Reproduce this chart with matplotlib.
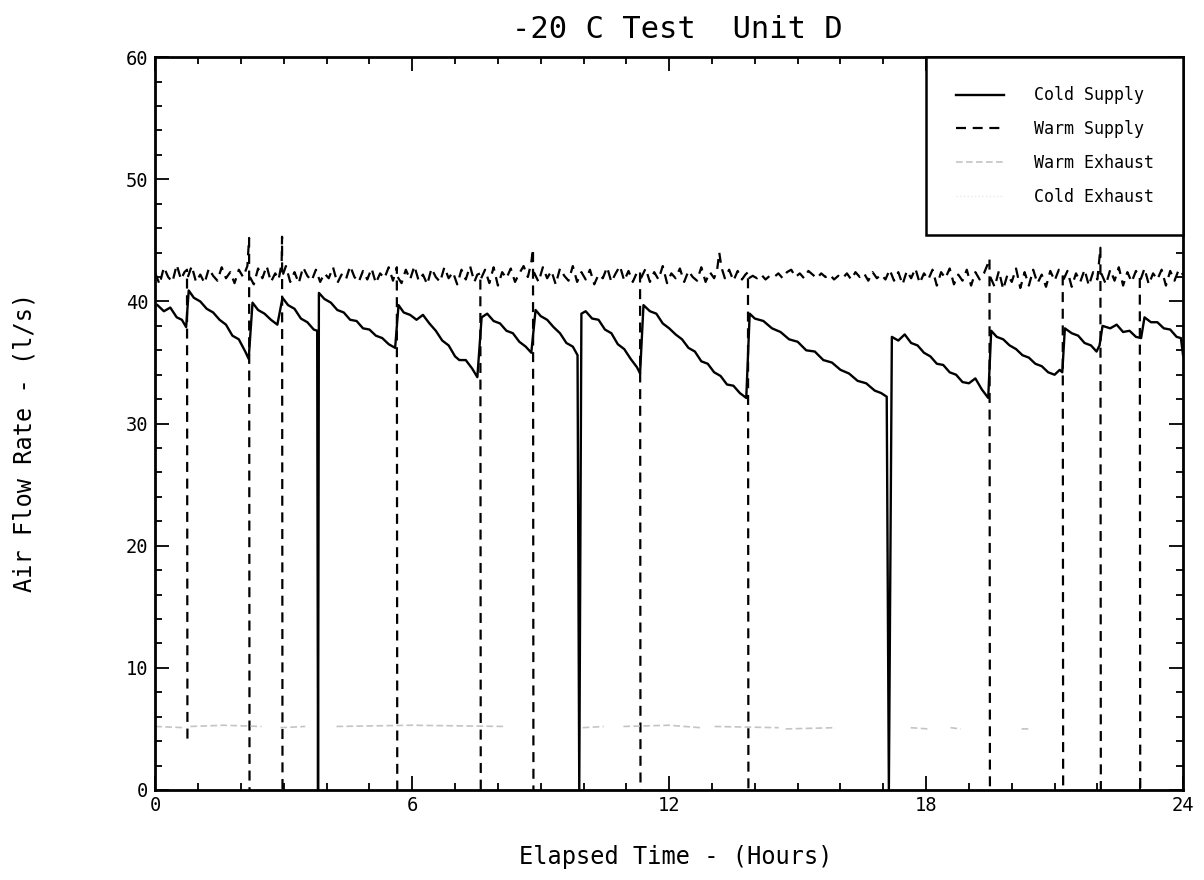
import matplotlib
matplotlib.use("Agg")
import matplotlib.pyplot as plt
from matplotlib.ticker import MultipleLocator
import numpy as np

FONT = ["DejaVu Sans Mono", "DejaVu Sans"]
plt.rcParams["font.family"] = FONT

title = "-20 C Test  Unit D"
x_label = "Elapsed Time - (Hours)"
y_label = "Air Flow Rate - (l/s)"
series_names = ["Cold Supply", "Warm Supply", "Warm Exhaust", "Cold Exhaust"]
x_ticks = [0, 6, 12, 18, 24]
y_ticks = [0, 10, 20, 30, 40, 50, 60]
nan = np.nan

# Cold Supply (solid sawtooth, drops to zero at three defrosts)
cold_supply_t = [0.05, 0.20, 0.35, 0.50, 0.62, 0.72, 0.78, 0.90, 1.05, 1.20, 1.35, 1.50, 1.65, 1.80, 1.95,
                 2.10, 2.18, 2.27, 2.40, 2.55, 2.70, 2.85, 2.97, 3.10, 3.25, 3.40, 3.55, 3.70, 3.78, 3.80,
                 3.82, 3.95, 4.10, 4.25, 4.40, 4.55, 4.70, 4.85, 5.00, 5.15, 5.30, 5.45, 5.60, 5.68, 5.80,
                 5.95, 6.10, 6.25, 6.40, 6.55, 6.70, 6.85, 7.00, 7.10, 7.25, 7.40, 7.52, 7.62, 7.75, 7.90,
                 8.05, 8.20, 8.35, 8.50, 8.65, 8.78, 8.88, 9.00, 9.15, 9.30, 9.45, 9.60, 9.75, 9.86, 9.90,
                 9.95, 10.05, 10.20, 10.35, 10.50, 10.65, 10.80, 10.95, 11.10, 11.25, 11.32, 11.40, 11.55,
                 11.70, 11.85, 12.00, 12.15, 12.30, 12.45, 12.60, 12.75, 12.90, 13.05, 13.20, 13.35, 13.50,
                 13.65, 13.80, 13.88, 14.00, 14.20, 14.40, 14.60, 14.80, 15.00, 15.20, 15.40, 15.60, 15.80,
                 16.00, 16.20, 16.40, 16.60, 16.80, 16.95, 17.08, 17.13, 17.20, 17.35, 17.50, 17.65, 17.80,
                 17.95, 18.10, 18.25, 18.40, 18.55, 18.70, 18.85, 19.00, 19.15, 19.30, 19.45, 19.52, 19.65,
                 19.80, 19.95, 20.10, 20.25, 20.40, 20.55, 20.70, 20.85, 21.00, 21.12, 21.18, 21.24, 21.40,
                 21.55, 21.70, 21.85, 21.98, 22.05, 22.12, 22.30, 22.45, 22.60, 22.75, 22.90, 23.02, 23.10,
                 23.25, 23.40, 23.55, 23.70, 23.85, 23.95, 24.00]
cold_supply_v = [39.7, 39.2, 39.5, 38.7, 38.5, 37.9, 40.9, 40.3, 40.0, 39.4, 39.1, 38.5, 38.1, 37.2, 36.9,
                 35.9, 35.3, 39.9, 39.3, 39.0, 38.5, 38.1, 40.3, 39.7, 39.4, 38.6, 38.3, 37.7, 37.6, 0.0,
                 40.7, 40.2, 39.9, 39.3, 39.1, 38.5, 38.4, 37.8, 37.7, 37.2, 37.0, 36.5, 36.2, 39.7, 39.1,
                 38.9, 38.5, 38.9, 38.2, 37.6, 36.8, 36.4, 35.5, 35.2, 35.2, 34.5, 33.8, 38.7, 39.0, 38.4,
                 38.2, 37.6, 37.4, 36.7, 36.3, 35.8, 39.3, 38.8, 38.5, 37.9, 37.4, 36.6, 36.3, 35.6, 0.0,
                 39.0, 39.2, 38.6, 38.5, 37.7, 37.4, 36.5, 36.1, 35.3, 34.6, 34.1, 39.7, 39.2,
                 39.0, 38.2, 37.8, 37.3, 36.9, 36.2, 35.9, 35.1, 34.9, 34.2, 33.9, 33.2, 33.1,
                 32.5, 32.1, 39.0, 38.6, 38.4, 37.8, 37.5, 36.9, 36.7, 36.0, 35.9, 35.2, 35.0,
                 34.4, 34.1, 33.5, 33.3, 32.7, 32.5, 32.2, 0.0, 37.1, 36.8, 37.3, 36.6, 36.4,
                 35.8, 35.5, 34.9, 34.8, 34.2, 34.0, 33.4, 33.3, 33.7, 32.8, 32.1, 37.6, 37.1,
                 36.9, 36.4, 36.1, 35.6, 35.4, 34.9, 34.7, 34.2, 34.0, 34.4, 34.2, 37.8, 37.4,
                 37.2, 36.6, 36.4, 35.9, 36.4, 38.0, 37.8, 38.1, 37.5, 37.6, 37.1, 37.0, 38.7,
                 38.3, 38.3, 37.8, 37.7, 37.1, 37.0, 35.6]

# Warm Supply (noisy ~42, dashed drops to zero at defrosts; nan = pen lift after each drop)
warm_supply_t = [0.00, 0.10, 0.20, 0.30, 0.40, 0.50, 0.60, 0.68, 0.74, 0.75, 0.755,
                 0.76, 0.85, 0.95, 1.05, 1.15, 1.25, 1.35, 1.45, 1.55, 1.65, 1.75, 1.85, 1.95, 2.05, 2.15,
                 2.19, 2.20, 2.205,
                 2.21, 2.30, 2.40, 2.50, 2.60, 2.70, 2.80, 2.88, 2.95, 2.96, 2.97, 2.975,
                 2.98, 3.05, 3.15, 3.25, 3.35, 3.45, 3.55, 3.65, 3.75, 3.85, 3.95, 4.05, 4.15, 4.25, 4.35,
                 4.45, 4.55, 4.65, 4.75, 4.85, 4.95, 5.05, 5.15, 5.25, 5.35, 5.45, 5.55, 5.64, 5.65, 5.655,
                 5.66, 5.75, 5.85, 5.95, 6.05, 6.15, 6.25, 6.35, 6.45, 6.55, 6.65, 6.75, 6.85, 6.95, 7.05,
                 7.15, 7.25, 7.35, 7.45, 7.52, 7.59, 7.60, 7.605,
                 7.61, 7.70, 7.80, 7.90, 8.00, 8.10, 8.20, 8.30, 8.40, 8.50, 8.60, 8.70, 8.78, 8.82, 8.83,
                 8.835,
                 8.84, 8.95, 9.05, 9.15, 9.25, 9.35, 9.45, 9.55, 9.65, 9.75, 9.85, 9.95, 10.05, 10.15, 10.25,
                 10.35, 10.45, 10.55, 10.65, 10.75, 10.85, 10.95, 11.05, 11.15, 11.25, 11.32, 11.33, 11.335,
                 11.34, 11.45, 11.55, 11.65, 11.75, 11.85, 11.95, 12.05, 12.15, 12.25, 12.35, 12.45, 12.55,
                 12.65, 12.75, 12.85, 12.95, 13.05, 13.12, 13.17, 13.22, 13.30, 13.40, 13.50, 13.60, 13.70,
                 13.78, 13.84, 13.85, 13.855,
                 13.86, 13.95, 14.05, 14.15, 14.25, 14.35, 14.45, 14.55, 14.65, 14.75, 14.85, 14.95, 15.05,
                 15.15, 15.25, 15.35, 15.45, 15.55, 15.65, 15.75, 15.85, 15.95, 16.05, 16.15, 16.25, 16.35,
                 16.45, 16.55, 16.65, 16.75, 16.85, 16.95, 17.05, 17.15, 17.25, 17.35, 17.45, 17.55, 17.65,
                 17.75, 17.85, 17.95, 18.05, 18.15, 18.25, 18.35, 18.45, 18.55, 18.65, 18.75, 18.85, 18.95,
                 19.05, 19.15, 19.25, 19.35, 19.42, 19.48, 19.49, 19.495,
                 19.50, 19.60, 19.70, 19.80, 19.90, 20.00, 20.10, 20.20, 20.30, 20.40, 20.50, 20.60, 20.70,
                 20.80, 20.90, 21.00, 21.10, 21.19, 21.20, 21.205,
                 21.21, 21.30, 21.40, 21.50, 21.60, 21.70, 21.80, 21.90, 22.00, 22.07, 22.08, 22.085,
                 22.09, 22.20, 22.30, 22.40, 22.50, 22.60, 22.70, 22.80, 22.90, 22.99, 23.00, 23.005,
                 23.01, 23.10, 23.20, 23.30, 23.40, 23.50, 23.60, 23.70, 23.80, 23.90, 24.00]
warm_supply_v = [42.3, 41.4, 42.8, 42.0, 41.6, 43.0, 41.8, 42.4, 42.6, 3.9, nan,
                 42.0, 42.9, 41.6, 42.2, 41.5, 42.7, 42.1, 41.7, 42.8, 41.9, 42.4, 41.5, 42.6, 42.0, 42.9,
                 45.2, 0.0, nan,
                 42.0, 41.4, 42.7, 41.9, 42.9, 41.6, 42.3, 41.8, 43.1, 45.3, 0.0, nan,
                 42.2, 42.9, 41.6, 42.4, 41.5, 42.8, 42.1, 41.7, 42.6, 41.6, 42.3, 41.9, 42.8, 41.5, 42.2,
                 41.8, 42.9, 42.0, 41.6, 42.5, 41.8, 42.7, 41.5, 42.3, 41.9, 42.8, 41.7, 42.8, 0.0, nan,
                 42.0, 41.5, 42.6, 41.8, 42.9, 41.7, 42.2, 41.4, 42.7, 42.0, 41.6, 42.8, 41.9, 42.4, 41.4,
                 42.6, 41.8, 42.9, 41.6, 42.2, 42.3, 0.0, nan,
                 41.9, 42.6, 41.5, 42.8, 41.3, 42.4, 41.9, 42.7, 41.6, 42.3, 42.9, 42.0, 43.2, 44.3, 0.0,
                 nan,
                 42.4, 41.6, 42.8, 41.9, 42.5, 41.4, 42.7, 42.1, 41.7, 42.9, 41.6, 42.4, 41.8, 42.6, 41.4,
                 42.2, 41.9, 42.8, 41.6, 42.3, 42.9, 41.7, 42.5, 41.6, 42.4, 42.5, 0.0, nan,
                 41.9, 42.7, 41.6, 42.4, 41.8, 42.9, 41.5, 42.3, 41.9, 42.7, 41.6, 42.5, 42.0,
                 41.7, 42.8, 41.6, 42.4, 41.9, 42.6, 44.0, 42.8, 41.9, 42.6, 41.7, 42.5, 41.8,
                 42.2, 42.4, 0.0, nan,
                 41.9, 42.1, 41.9, 42.2, 41.8, 42.1, 42.0, 42.3, 41.9, 42.4, 42.6, 42.0, 42.3,
                 41.9, 42.5, 42.2, 41.9, 42.3, 42.0, 42.2, 41.8, 42.1, 41.9, 42.3, 41.8, 42.4,
                 42.0, 42.3, 41.7, 42.4, 41.9, 42.2, 41.8, 42.6, 41.7, 42.4, 41.4, 42.5, 41.9,
                 42.7, 41.5, 42.3, 41.8, 42.6, 41.3, 42.4, 41.9, 42.7, 41.4, 42.2, 41.7, 42.6,
                 41.3, 42.4, 41.8, 42.3, 42.9, 43.5, 0.0, nan,
                 42.0, 41.2, 42.5, 41.0, 42.2, 41.6, 42.7, 41.1, 42.4, 41.3, 42.6, 41.5, 42.2,
                 41.2, 42.5, 41.7, 42.6, 42.2, 0.0, nan,
                 41.8, 42.5, 41.2, 42.3, 41.6, 42.6, 41.3, 42.4, 41.8, 44.4, 0.0, nan,
                 42.3, 41.4, 42.6, 41.7, 42.8, 41.3, 42.4, 41.6, 42.5, 42.0, 0.0, nan,
                 41.8, 42.7, 41.4, 42.3, 41.8, 42.6, 41.3, 42.5, 41.7, 42.6, 42.2]

# Warm Exhaust (faint trace near 5 l/s, broken into pieces)
warm_exhaust_t = [0.00, 0.68, 0.75, 0.82, 1.60, 2.48, 2.70, 2.92, 3.50, 3.90, 4.23, 6.00, 8.18, 9.00,
                  9.98, 10.47, 10.70, 10.93, 12.00, 12.73, 12.90, 13.06, 14.56, 14.65, 14.72, 15.89, 16.70,
                  17.64, 18.04, 18.30, 18.57, 18.81, 19.50, 20.23, 20.40]
warm_exhaust_v = [5.2, 5.1, nan, 5.2, 5.3, 5.2, nan, 5.1, 5.2, nan, 5.2, 5.3, 5.2, nan,
                  5.1, 5.2, nan, 5.2, 5.3, 5.1, nan, 5.2, 5.1, nan, 5.0, 5.1, nan,
                  5.1, 5.0, nan, 5.1, 5.0, nan, 5.0, 5.0]

# Cold Exhaust: no trace visible on the chart
cold_exhaust_t = []
cold_exhaust_v = []

fig = plt.figure(figsize=(12.04, 8.8), dpi=100)
ax = fig.add_axes([0.129, 0.1023, 0.8536, 0.8327])

ax.plot(cold_supply_t, cold_supply_v, color="black", lw=1.7, ls="-", label=series_names[0])
ax.plot(warm_supply_t, warm_supply_v, color="black", lw=1.6, ls=(0, (4.5, 3)), label=series_names[1])
ax.plot(warm_exhaust_t, warm_exhaust_v, color="#c4c4c4", lw=1.2, ls=(0, (4, 2)), label=series_names[2])
ax.plot(cold_exhaust_t, cold_exhaust_v, color="#e8e8e8", lw=1.0, ls=":", label=series_names[3])

ax.set_xlim(0, 24)
ax.set_ylim(0, 60)
ax.set_xticks(x_ticks)
ax.set_yticks(y_ticks)
ax.xaxis.set_minor_locator(MultipleLocator(1))
ax.yaxis.set_minor_locator(MultipleLocator(2))
ax.tick_params(which="both", direction="in", top=True, right=True, color="black", width=1.3)
ax.tick_params(which="major", length=10, labelsize=13.5)
ax.tick_params(which="minor", length=5)
ax.tick_params(axis="x", which="major", pad=4)
ax.tick_params(axis="y", which="major", pad=5)
for s in ax.spines.values():
    s.set_linewidth(2.0)

fig.text(0.5625, 0.967, title, ha="center", va="center", fontsize=22)
ax.set_xlabel(x_label, fontsize=17)
ax.xaxis.set_label_coords(0.506, -0.075)
ax.set_ylabel(y_label, fontsize=17)
ax.yaxis.set_label_coords(-0.116, 0.475)

leg = ax.legend(loc="upper right", bbox_to_anchor=(1, 1), borderaxespad=0, frameon=True,
                fancybox=False, edgecolor="black", framealpha=1, fontsize=12,
                handlelength=2.9, handletextpad=1.8, labelspacing=0.95, borderpad=1.75)
leg.get_frame().set_linewidth(1.8)

fig.savefig("out.png", dpi=100, facecolor="white")
